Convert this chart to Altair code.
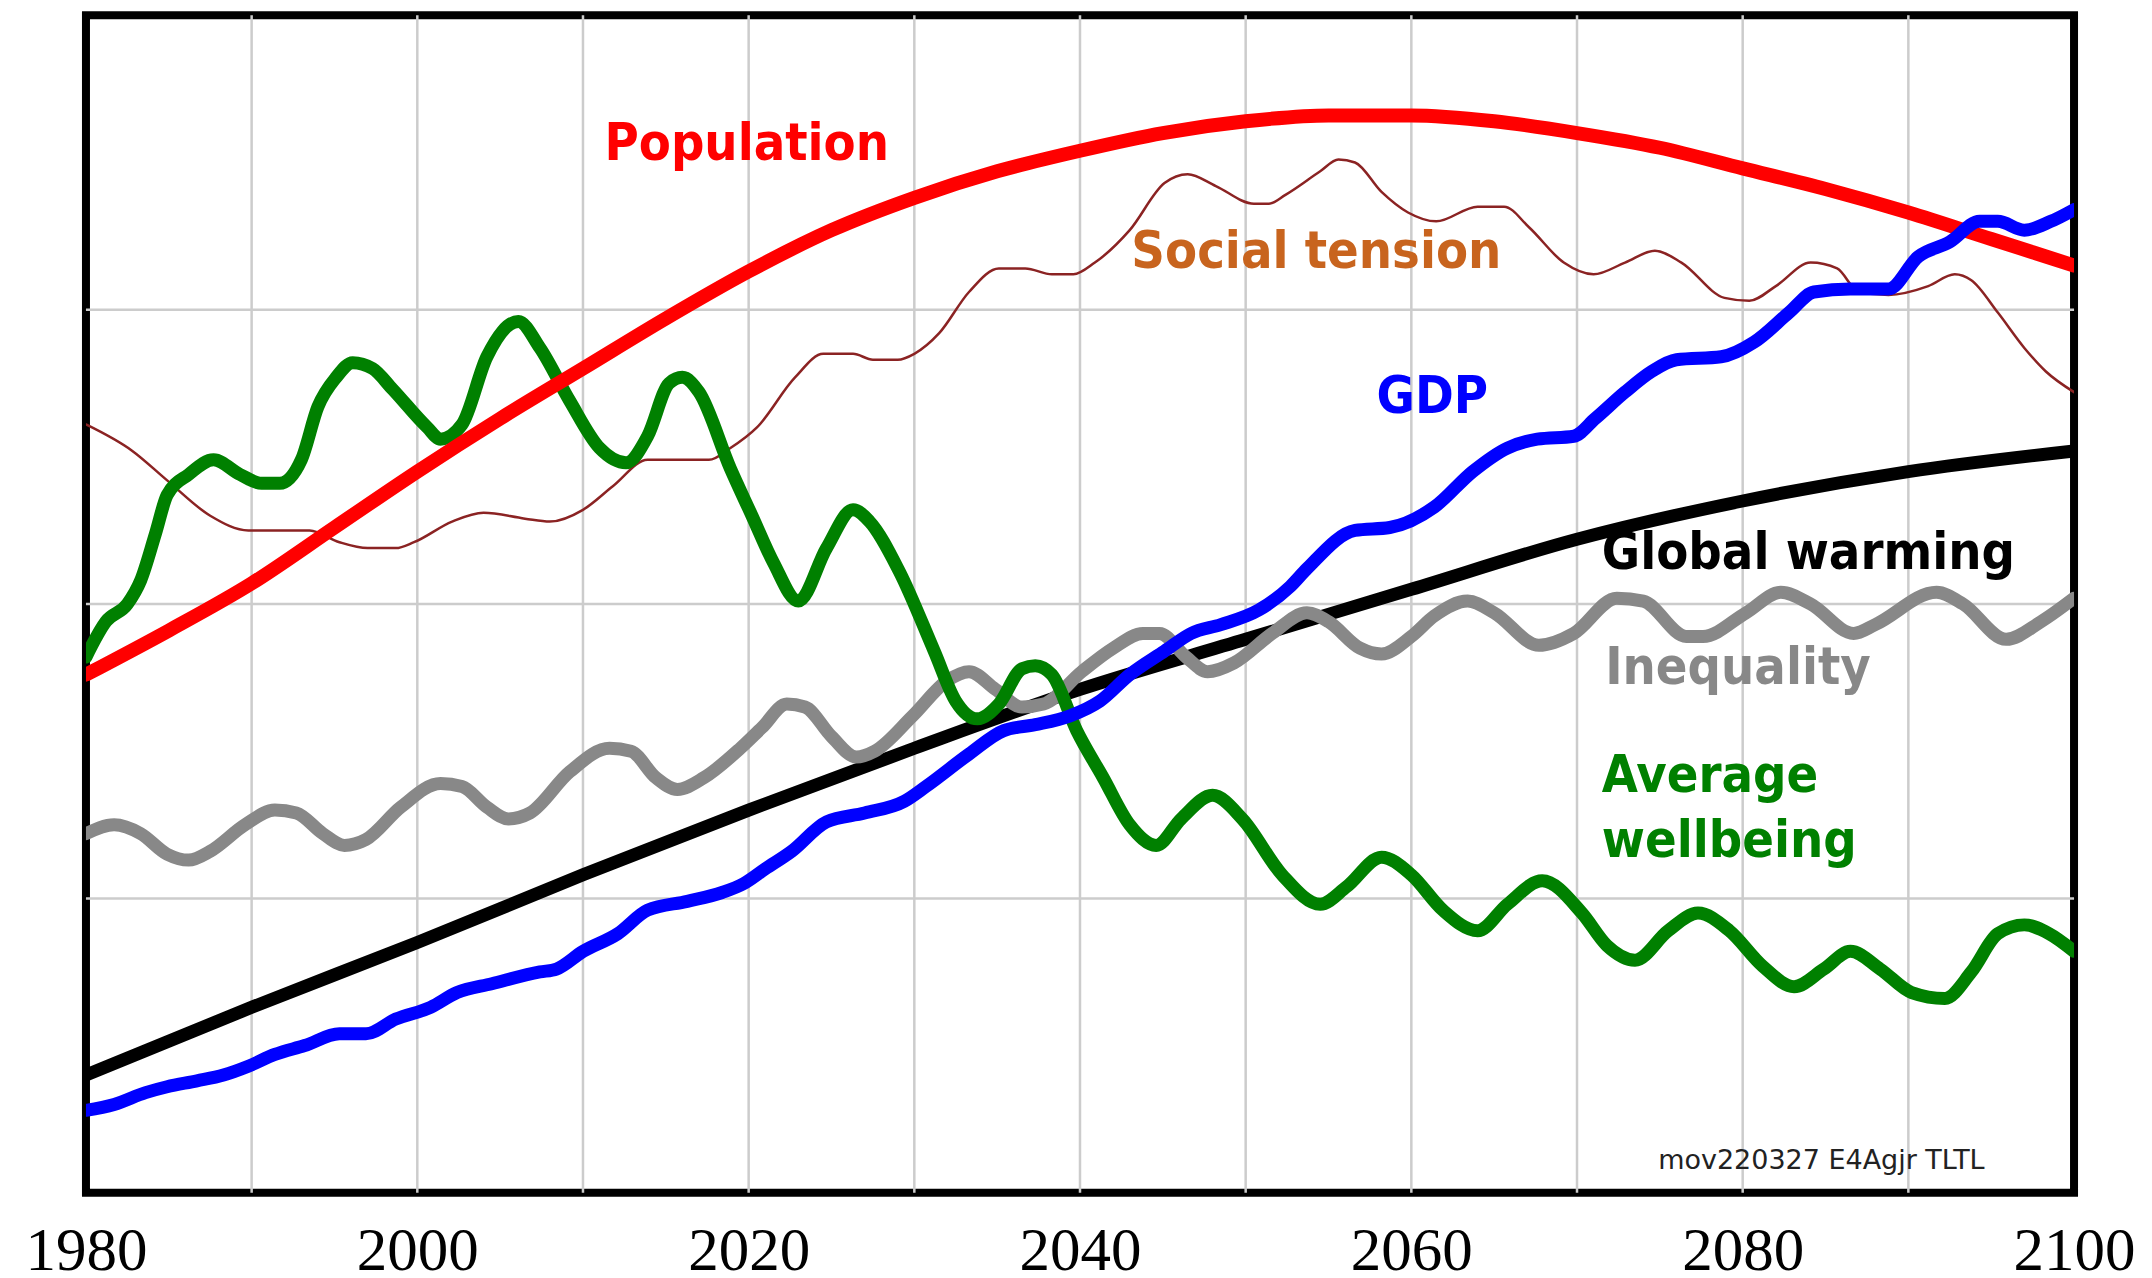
import altair as alt
import pandas as pd

# ---------------- data ----------------
pop_years = [1980, 1985, 1990, 1995, 2000, 2005, 2010, 2015, 2020, 2025, 2030, 2035, 2040,
             2045, 2050, 2055, 2060, 2065, 2070, 2075, 2080, 2085, 2090, 2095, 2100]
pop_vals = [1.76, 1.91, 2.07, 2.26, 2.45, 2.63, 2.80, 2.97, 3.13, 3.27, 3.38, 3.47, 3.54,
            3.60, 3.64, 3.66, 3.66, 3.64, 3.60, 3.55, 3.48, 3.41, 3.33, 3.24, 3.15]

tension_years = [1980, 1982.8, 1984.9, 1987.5, 1989.8, 1993.5, 1995.3, 1997, 1998.7, 1999.8,
                 2002.1, 2004, 2006.5, 2008, 2010, 2011.8, 2013.9, 2017.6, 2018.9, 2020.5,
                 2022.8, 2024.5, 2026.3, 2027.5, 2029, 2030, 2031.5, 2033.3, 2035.1, 2036.7,
                 2038.3, 2039.6, 2040.9, 2043, 2045.1, 2046.5, 2048.2, 2050.5, 2051.4, 2052.4,
                 2054.5, 2055.6, 2056.6, 2058.2, 2059.8, 2061.5, 2064, 2065.6, 2067.1, 2069.2,
                 2071, 2072.9, 2074.7, 2076.3, 2078.9, 2080.4, 2082, 2084.1, 2085.7, 2087,
                 2088.8, 2091.2, 2092.8, 2093.8, 2095.4, 2097, 2098.3, 2100]
tension_vals = [2.61, 2.52, 2.42, 2.30, 2.25, 2.25, 2.21, 2.19, 2.19, 2.21,
                2.28, 2.31, 2.29, 2.28, 2.32, 2.40, 2.49, 2.49, 2.53, 2.60,
                2.77, 2.85, 2.85, 2.83, 2.83, 2.85, 2.92, 3.06, 3.14, 3.14,
                3.12, 3.12, 3.16, 3.27, 3.43, 3.46, 3.42, 3.36, 3.36, 3.39,
                3.47, 3.51, 3.50, 3.40, 3.33, 3.30, 3.35, 3.35, 3.28, 3.16,
                3.12, 3.16, 3.20, 3.16, 3.04, 3.03, 3.08, 3.16, 3.14, 3.06,
                3.05, 3.08, 3.12, 3.10, 2.99, 2.87, 2.79, 2.72]

wellbeing_years = [1980, 1981.2, 1982.5, 1983.3, 1984.2, 1984.9, 1986.2, 1987.7, 1989.3, 1990.6,
                   1991.7, 1993, 1994, 1995.1, 1996.1, 1997.3, 1998.5, 2000.6, 2001.4, 2002.7,
                   2004.2, 2006.1, 2007.4, 2009.2, 2011, 2012.6, 2013.9, 2015.2, 2016, 2017,
                   2018.9, 2020.2, 2021.5, 2023, 2024.7, 2026.3, 2027.3, 2029.1, 2031.2, 2032.5,
                   2033.8, 2035.1, 2036.5, 2037.3, 2038.3, 2039.8, 2041.4, 2043, 2044.6, 2046.1,
                   2048, 2049.8, 2052.2, 2054.5, 2056.1, 2058.2, 2060, 2061.9, 2064, 2065.8,
                   2067.9, 2070.3, 2071.8, 2073.5, 2075.5, 2077.3, 2079.2, 2081.2, 2083.1, 2084.9,
                   2086.5, 2088.3, 2090.2, 2092.2, 2093.8, 2095.4, 2097, 2098.5, 2100]
wellbeing_vals = [1.82, 1.94, 2.00, 2.08, 2.24, 2.37, 2.44, 2.49, 2.44, 2.41,
                  2.41, 2.49, 2.67, 2.77, 2.82, 2.80, 2.73, 2.60, 2.56, 2.61,
                  2.84, 2.96, 2.87, 2.69, 2.53, 2.48, 2.57, 2.75, 2.77, 2.72,
                  2.46, 2.30, 2.14, 2.01, 2.19, 2.32, 2.28, 2.11, 1.84, 1.67,
                  1.61, 1.66, 1.78, 1.79, 1.76, 1.57, 1.41, 1.25, 1.18, 1.27,
                  1.35, 1.27, 1.08, 0.98, 1.04, 1.14, 1.08, 0.96, 0.89, 0.98,
                  1.06, 0.95, 0.84, 0.79, 0.89, 0.95, 0.89, 0.77, 0.70, 0.76,
                  0.82, 0.76, 0.68, 0.66, 0.75, 0.88, 0.91, 0.88, 0.82]

inequality_years = [1980, 1981.7, 1983.3, 1984.9, 1986.2, 1987.5, 1989.6, 1991.4, 1992.7, 1994.3,
                    1995.6, 1996.9, 1999, 2001.4, 2002.7, 2004.2, 2005.5, 2006.8, 2009.2, 2011.6,
                    2012.9, 2014.4, 2015.7, 2017.3, 2019.5, 2020.8, 2022.3, 2023.4, 2025, 2026.5,
                    2027.6, 2029.9, 2032, 2033.3, 2034.9, 2036.5, 2037.8, 2040.1, 2042, 2043.8,
                    2044.8, 2046.4, 2047.7, 2049.3, 2051.6, 2053.7, 2055, 2056.9, 2058.2, 2060,
                    2061.4, 2063.4, 2065, 2067.7, 2069.8, 2072.4, 2074, 2076.6, 2077.6, 2080.2,
                    2082.3, 2084.1, 2086.7, 2088, 2091.7, 2093.3, 2095.9, 2098, 2100]
inequality_vals = [1.22, 1.25, 1.22, 1.15, 1.13, 1.16, 1.25, 1.30, 1.29, 1.22,
                   1.18, 1.20, 1.31, 1.39, 1.38, 1.31, 1.27, 1.29, 1.43, 1.51,
                   1.50, 1.41, 1.37, 1.41, 1.51, 1.58, 1.66, 1.65, 1.55, 1.48,
                   1.50, 1.62, 1.74, 1.77, 1.71, 1.65, 1.66, 1.77, 1.85, 1.90,
                   1.90, 1.82, 1.77, 1.80, 1.90, 1.97, 1.94, 1.85, 1.83, 1.89,
                   1.96, 2.01, 1.97, 1.86, 1.90, 2.02, 2.01, 1.89, 1.89, 1.97,
                   2.04, 2.00, 1.90, 1.93, 2.04, 2.00, 1.88, 1.94, 2.02]

warming_years = [1980, 1990, 2000, 2010, 2020, 2030, 2040, 2050, 2060, 2070, 2080, 2090, 2100]
warming_vals = [0.40, 0.63, 0.85, 1.08, 1.30, 1.51, 1.71, 1.88, 2.05, 2.22, 2.35, 2.45, 2.52]

gdp_years = [1980, 1981.7, 1983.6, 1984.9, 1986.7, 1988.3, 1989.8, 1991.4, 1993.2, 1995.3,
             1996.9, 1998.7, 2000.8, 2002.4, 2004.5, 2007.4, 2008.4, 2010, 2012.1, 2013.9,
             2016.3, 2018.4, 2019.7, 2021, 2022.6, 2024.7, 2027, 2029.4, 2030.7, 2033.3,
             2035.4, 2037.3, 2039.4, 2041.2, 2043, 2045.1, 2046.7, 2048.5, 2050.8, 2052.7,
             2053.7, 2056.6, 2058.7, 2061.4, 2063.7, 2065.8, 2067.6, 2069.8, 2071.1, 2072.9,
             2074.5, 2076, 2078.7, 2080.7, 2082.8, 2084.3, 2086.5, 2088.8, 2090.6, 2092.5,
             2094.3, 2095.4, 2097, 2098.6, 2100]
gdp_vals = [0.28, 0.30, 0.34, 0.36, 0.38, 0.40, 0.43, 0.47, 0.50, 0.54,
            0.54, 0.59, 0.63, 0.68, 0.71, 0.75, 0.76, 0.82, 0.88, 0.96,
            0.99, 1.02, 1.05, 1.10, 1.16, 1.26, 1.29, 1.33, 1.38, 1.49,
            1.57, 1.59, 1.62, 1.67, 1.76, 1.84, 1.90, 1.93, 1.98, 2.06,
            2.12, 2.25, 2.26, 2.33, 2.45, 2.53, 2.56, 2.57, 2.63, 2.72,
            2.79, 2.83, 2.84, 2.89, 2.99, 3.06, 3.07, 3.07, 3.18, 3.23,
            3.30, 3.30, 3.27, 3.30, 3.34]

# series label texts and their anchor points (data coordinates)
label_texts = ["Population", "Social tension", "GDP", "Global warming", "Inequality",
               "Average", "wellbeing"]
label_years = [2011.3, 2043.1, 2057.9, 2071.5, 2071.7, 2071.5, 2071.5]
label_values = [3.508, 3.14, 2.65, 2.12, 1.729, 1.363, 1.142]
credit_text = "mov220327 E4Agjr TLTL"
credit_year = 2074.9
credit_value = 0.08

x_label_years = list(range(1980, 2101, 20))
x_grid_years = list(range(1990, 2100, 10))
y_grid_values = [1, 2, 3]

# ---------------- styling ----------------
RED = "#ff0000"
TENSION_LINE = "#8b2323"
TENSION_TEXT = "#c8641e"
GREEN = "#008000"
GRAY = "#888888"
BLUE = "#0000ff"
BLACK = "#000000"
GRID = "#cccccc"

x_scale = alt.Scale(domain=[1980, 2100], nice=False, zero=False)
y_scale = alt.Scale(domain=[0, 4], nice=False, zero=False)

x_axis = alt.Axis(values=x_label_years, format="d", title=None, grid=False,
                  domain=False, ticks=False, tickSize=0, labelPadding=29,
                  labelFont="Liberation Serif", labelFontSize=61, labelColor="#000000",
                  labelFlush=False, labelOverlap=False)

X = alt.X("year:Q", scale=x_scale, axis=x_axis)
Y = alt.Y("value:Q", scale=y_scale, axis=None)

vgrid = alt.Chart(pd.DataFrame({"year": x_grid_years})).mark_rule(
    color=GRID, strokeWidth=2.5
).encode(x=X)
hgrid = alt.Chart(pd.DataFrame({"value": y_grid_values})).mark_rule(
    color=GRID, strokeWidth=2.5
).encode(y=Y)


def line_layer(years, vals, color, width):
    df = pd.DataFrame({"year": years, "value": vals})
    return alt.Chart(df).mark_line(
        color=color, strokeWidth=width, interpolate="monotone",
        strokeCap="round", strokeJoin="round", clip=True
    ).encode(x=X, y=Y)


def text_layer(text, year, value, color, size, weight, font):
    df = pd.DataFrame({"year": [year], "value": [value], "text": [text]})
    return alt.Chart(df).mark_text(
        align="left", baseline="alphabetic", color=color, fontSize=size,
        fontWeight=weight, font=font
    ).encode(x=X, y=Y, text="text:N")


layers = [
    vgrid,
    hgrid,
    line_layer(tension_years, tension_vals, TENSION_LINE, 2.5),
    line_layer(warming_years, warming_vals, BLACK, 13),
    line_layer(inequality_years, inequality_vals, GRAY, 13),
    line_layer(wellbeing_years, wellbeing_vals, GREEN, 13),
    line_layer(pop_years, pop_vals, RED, 14),
    line_layer(gdp_years, gdp_vals, BLUE, 13),
]

label_colors = [RED, TENSION_TEXT, BLUE, BLACK, GRAY, GREEN, GREEN]
LABEL_FONT = "DejaVu Sans Condensed, DejaVu Sans, sans-serif"
for t, yr, v, c in zip(label_texts, label_years, label_values, label_colors):
    layers.append(text_layer(t, yr, v, c, 52, "bold", LABEL_FONT))

layers.append(text_layer(credit_text, credit_year, credit_value, "#222222", 27, "normal",
                         "DejaVu Sans, sans-serif"))

chart = alt.layer(*layers).properties(
    width=1989,
    height=1178,
    autosize=alt.AutoSizeParams(type="none"),
    padding={"left": 78, "top": 7, "right": 70, "bottom": 95},
).configure_view(
    stroke="#000000", strokeWidth=8
)

chart.save("out.html", embed_options={"renderer": "svg", "actions": False})
